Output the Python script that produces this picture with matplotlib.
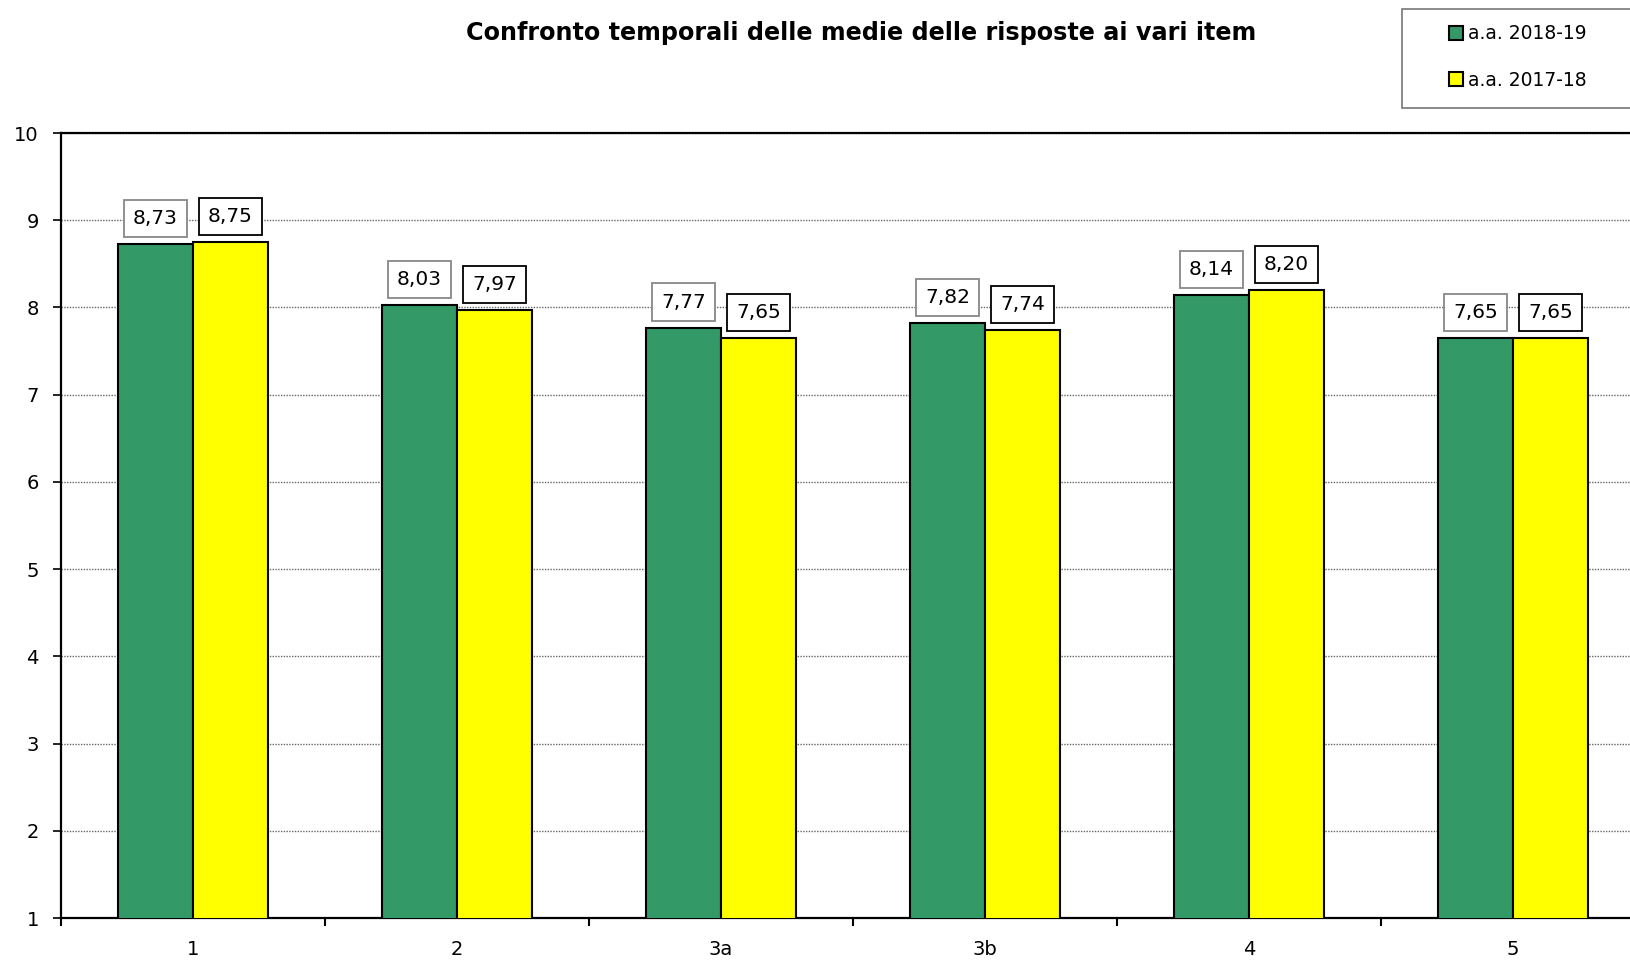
import matplotlib
matplotlib.use("Agg")
import matplotlib.pyplot as plt
from matplotlib.patches import Rectangle, Patch
import numpy as np

categories = ["1", "2", "3a", "3b", "4", "5"]
series_2018 = [8.73, 8.03, 7.77, 7.82, 8.14, 7.65]
series_2017 = [8.75, 7.97, 7.65, 7.74, 8.20, 7.65]
labels_series = ["a.a. 2018-19", "a.a. 2017-18"]
title = "Confronto temporali delle medie delle risposte ai vari item"

GREEN = "#339966"
YELLOW = "#FFFF00"

W, H = 1631, 961
fig = plt.figure(figsize=(W / 100, H / 100), dpi=100)
ax = fig.add_axes([61 / W, 1 - 918 / H, (1645 - 61) / W, (918 - 133) / H])

x = np.arange(len(categories))
bw = 0.284
b1 = ax.bar(x - bw / 2, series_2018, bw, color=GREEN, edgecolor="black", linewidth=1.5, zorder=3)
b2 = ax.bar(x + bw / 2, series_2017, bw, color=YELLOW, edgecolor="black", linewidth=1.5, zorder=3)

ax.set_ylim(1, 10)
ax.set_xlim(-0.5, len(categories) - 0.5)
ax.set_yticks(range(1, 11))
ax.yaxis.grid(True, linestyle=(0, (1, 1)), color="#666666", linewidth=1.0, zorder=0)
ax.set_axisbelow(True)

ax.set_xticks(np.arange(-0.5, len(categories), 1.0))
ax.set_xticklabels([])
ax.set_xticks(x, minor=True)
ax.set_xticklabels(categories, minor=True, fontsize=14)
ax.tick_params(axis="x", which="major", length=6, width=1.5, direction="out")
ax.tick_params(axis="x", which="minor", length=0, pad=16)
ax.tick_params(axis="y", length=6, width=1.2, direction="out", labelsize=14, pad=10)

for s in ax.spines.values():
    s.set_linewidth(1.6)

def lab(v):
    return f"{v:.2f}".replace(".", ",")

for bars, vals, ec in ((b1, series_2018, "#888888"), (b2, series_2017, "black")):
    for r, v in zip(bars, vals):
        ax.annotate(lab(v), (r.get_x() + r.get_width() / 2, v), xytext=(0, 11.5),
                    textcoords="offset points", ha="center", va="bottom", fontsize=14.5,
                    bbox=dict(boxstyle="square,pad=0.45", fc="white", ec=ec, lw=1.3), zorder=5)

fig.text(861 / W, 1 - 33 / H, title, ha="center", va="center", fontsize=17.2, fontweight="bold")

# legend frame
fig.add_artist(Rectangle((1402 / W, 1 - 108 / H), 300 / W, 99 / H, transform=fig.transFigure,
                         fc="white", ec="#777777", lw=1.2))
handles = [Patch(fc=GREEN, ec="black", lw=1.5), Patch(fc=YELLOW, ec="black", lw=1.5)]
fig.legend(handles, labels_series, loc="center left", bbox_to_anchor=(1440 / W, 1 - 57 / H),
           frameon=False, fontsize=13.5, handlelength=0.75, handleheight=0.75,
           handletextpad=0.25, labelspacing=1.45, borderpad=0)

fig.savefig("out.png", dpi=100)
